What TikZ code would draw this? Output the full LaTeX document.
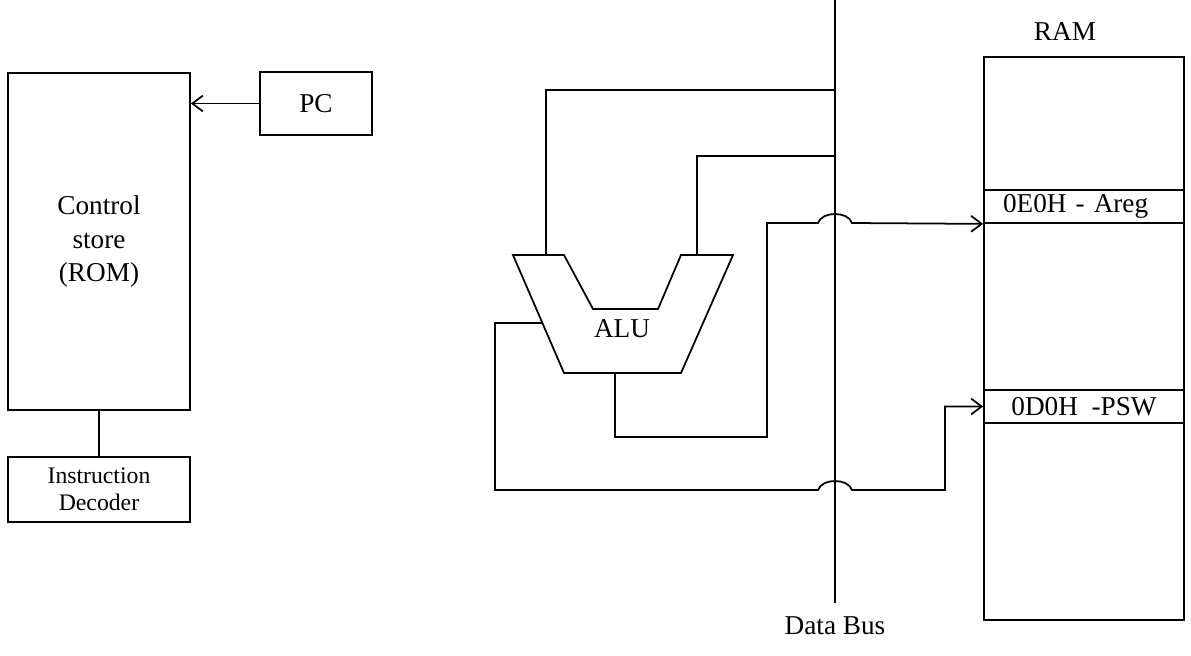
\documentclass[tikz,border=0pt]{standalone}
\usepackage{fontspec}
\setmainfont{Liberation Serif}
\usetikzlibrary{positioning, arrows.meta, calc}

\begin{document}
\begin{tikzpicture}[
  x=0.02cm, y=-0.02cm,
  box/.style={rectangle, draw, line width=1pt, align=center, inner sep=0pt, font=\fontsize{15.5}{19.3}\selectfont},
  row/.style={rectangle, draw, line width=1pt, minimum width=4cm, minimum height=0.66cm, inner sep=0pt, font=\fontsize{15.5}{19.3}\selectfont},
  lbl/.style={font=\fontsize{15.5}{19.3}\selectfont},
  wire/.style={line width=1pt},
  arrow/.style={-{Straight Barb[length=6pt,width=9pt]}, line width=1pt}
]
\useasboundingbox (0,0) rectangle (1191,656);

% ── Control store side ───────────────────────────────────────
\node[box, minimum width=3.64cm, minimum height=6.74cm] (ctrl) at (99,241.5) {Control\\store\\(ROM)};
\node[box, minimum width=3.64cm, minimum height=1.3cm, below=0.9cm of ctrl, font=\fontsize{13.5}{15.3}\selectfont] (dec) {Instruction\\Decoder};
\node[box, minimum width=2.24cm, minimum height=1.26cm] (pc) at (316,103.5) {PC};

% ── RAM ──────────────────────────────────────────────────────
\node[box, minimum width=4cm, minimum height=11.26cm] (ram) at (1084,338.5) {};
\node[lbl, above=0.18cm of ram, xshift=-0.38cm] (ramlbl) {RAM};
\node[row, text width=3.24cm, align=left] (areg) at (1084,206.5) {0E0H - Areg};
\node[row] (psw) at (1084,406.5) {0D0H~ -PSW};

% ── Data bus ─────────────────────────────────────────────────
\coordinate (bustop) at (835,0);
\coordinate (busbot) at (835,603);
\coordinate (tapA) at (835,90);
\coordinate (tapB) at (835,156);
\node[lbl, below=0.14cm of busbot] (buslbl) {Data Bus};

% ── ALU ──────────────────────────────────────────────────────
\draw[wire] (513,255) -- (564,255) -- (593,309) -- (658,309) -- (681,255)
  -- (733,255) -- (681,373) -- (564,373) -- cycle;
\node[lbl] (alu) at (622,329) {ALU};
\coordinate (aluinA) at (546,255);
\coordinate (aluinB) at (697,255);
\coordinate (aluout) at (615,373);
\coordinate (alusel) at (542,323);

% ── Wires ────────────────────────────────────────────────────
\draw[arrow] (pc.west) -- (pc.west -| ctrl.east);
\draw[wire] (ctrl) -- (dec);
\draw[wire] (bustop) -- (busbot);
\draw[wire] (aluinA) |- (tapA);
\draw[wire] (aluinB) |- (tapB);
\draw[arrow] (aluout) -- (615,437) -- (767,437) -- (767,223) -- (818,223)
  .. controls (822,211) and (848,211) .. (852,223) -- (areg.south west);
\draw[arrow] (alusel) -- (495,323) -- (495,490) -- (818,490)
  .. controls (822,478) and (848,478) .. (852,490) -- (945,490) |- (psw.west);
\end{tikzpicture}
\end{document}
